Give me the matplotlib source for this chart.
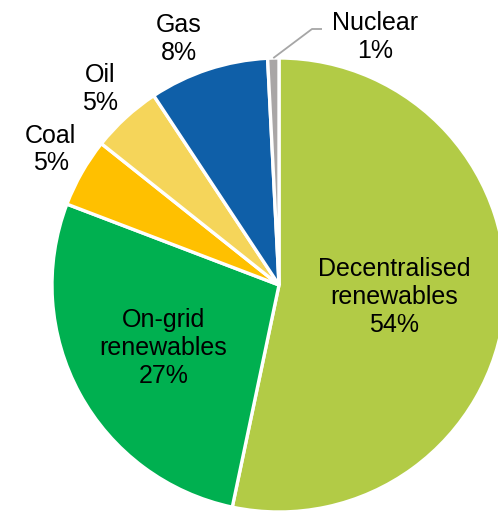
import numpy as np
import matplotlib.pyplot as plt

# andelar läst från bilden (summan ~100)
labels = ["Decentralised\nrenewables", "On-grid\nrenewables", "Coal", "Oil", "Gas", "Nuclear"]
values = [53.3, 27.5, 4.9, 5.0, 8.5, 0.8]
pct_text = ["54%", "27%", "5%", "5%", "8%", "1%"]
colors = ["#B2CB46", "#00B050", "#FFC000", "#F5D55A", "#0F5FA8", "#A9A6A6"]

plt.rcParams['font.family'] = ['Liberation Sans', 'DejaVu Sans']

fig = plt.figure(figsize=(4.98, 5.13), dpi=100)
ax = fig.add_axes([0, 0, 1, 1])

R = 227  # radie i pixlar
wedges, _ = ax.pie(values, colors=colors, startangle=90, counterclock=False,
                   radius=R, center=(0, 0),
                   wedgeprops=dict(edgecolor="white", linewidth=2.4))

# avstånd för etiketterna (andel av radien) + liten vinkeljustering
dist = [0.51, 0.58, 1.17, 1.17, 1.17, None]
vrid = [0, 0, -1, 0, 4, 0]
for w, lab, p, d, v in zip(wedges, labels, pct_text, dist, vrid):
    if d is None:
        continue
    mid = np.deg2rad((w.theta1 + w.theta2) / 2 + v)
    x = d * R * np.cos(mid)
    y = d * R * np.sin(mid)
    ax.text(x, y, lab + "\n" + p, ha="center", va="center", fontsize=18,
            linespacing=1.2, color="black")

# Nuclear med ledarlinje
w = wedges[5]
mid = np.deg2rad((w.theta1 + w.theta2) / 2)
x0, y0 = R * np.cos(mid), R * np.sin(mid)
ax.plot([x0, 33, 43], [y0, 256, 256], color="#A6A6A6", lw=1.3, solid_capstyle="butt")
ax.text(96, 248, labels[5] + "\n" + pct_text[5], ha="center", va="center",
        fontsize=18, linespacing=1.2, color="black")

ax.set_aspect("equal")
ax.set_xlim(-279, 219)
ax.set_ylim(-228, 285)
ax.axis("off")

fig.savefig("out.png", dpi=100)
